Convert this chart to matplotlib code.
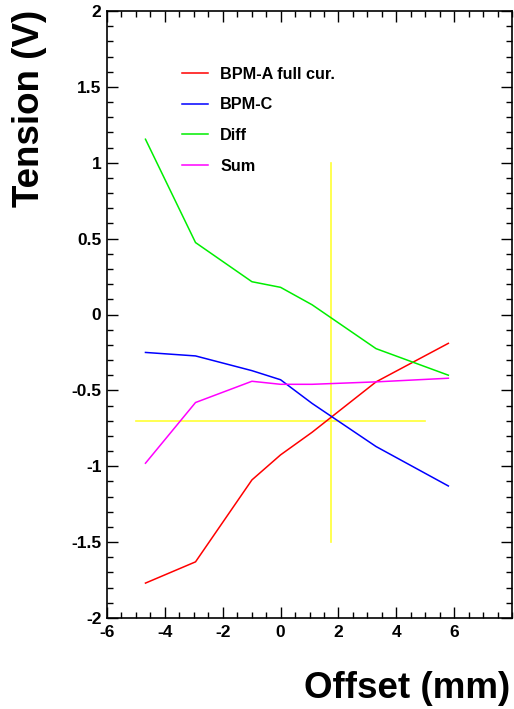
import matplotlib
matplotlib.use("Agg")
import matplotlib.pyplot as plt
from matplotlib.ticker import MultipleLocator, FixedLocator, FuncFormatter

# offsets (mm) and measured tensions (V)
offset = [-4.67, -2.94, -0.99, 0.0, 1.09, 3.3, 5.8]
bpm_a = [-1.77, -1.63, -1.09, -0.925, -0.776, -0.444, -0.19]
bpm_c = [-0.25, -0.273, -0.37, -0.43, -0.586, -0.87, -1.13]
diff = [1.155, 0.474, 0.216, 0.179, 0.064, -0.225, -0.40]
summ = [-0.98, -0.58, -0.44, -0.46, -0.46, -0.444, -0.42]

labels = ["BPM-A full cur.", "BPM-C", "Diff", "Sum"]
colors = ["#ff0000", "#0000ff", "#00ee00", "#ff00ff"]

# yellow cross marking the crossing point
cross_x = [1.76, 1.76]
cross_y = [-1.5, 1.0]
hline_x = [-5.0, 5.0]
hline_y = [-0.7, -0.7]

plt.rcParams['font.family'] = ['Liberation Sans', 'DejaVu Sans']
plt.rcParams['font.weight'] = 'bold'
plt.rcParams['axes.unicode_minus'] = False

fig = plt.figure(figsize=(5.14, 7.09), dpi=100)
ax = fig.add_axes([107/514, 1-618/709, 405/514, 607/709])

ax.plot(cross_x, cross_y, color="#ffff33", lw=1.2)
ax.plot(hline_x, hline_y, color="#ffff33", lw=1.2)

lines = []
for ys, c, lab in zip([bpm_a, bpm_c, diff, summ], colors, labels):
    l, = ax.plot(offset, ys, color=c, lw=1.1, label=lab)
    lines.append(l)

ax.set_xlim(-6, 8)
ax.set_ylim(-2, 2)
ax.xaxis.set_major_locator(FixedLocator([-6, -4, -2, 0, 2, 4, 6]))
ax.xaxis.set_minor_locator(MultipleLocator(0.5))
ax.yaxis.set_major_locator(MultipleLocator(0.5))
ax.yaxis.set_minor_locator(MultipleLocator(0.1))
ax.tick_params(which='both', direction='in', top=True, right=True,
               labelsize=12.5, width=1.0)
ax.tick_params(which='major', length=8)
ax.tick_params(which='minor', length=4)
ax.tick_params(axis='x', pad=5)
ax.tick_params(axis='y', pad=4)
for sp in ax.spines.values():
    sp.set_linewidth(1.2)

fmt = FuncFormatter(lambda v, p: "%g" % v)
ax.xaxis.set_major_formatter(fmt)
ax.yaxis.set_major_formatter(fmt)
for lab in ax.get_xticklabels() + ax.get_yticklabels():
    lab.set_fontweight('bold')

leg = ax.legend(handles=lines, loc='upper left', bbox_to_anchor=(0.185, 0.908),
                frameon=False, prop={'weight': 'bold', 'size': 11.7},
                borderpad=0, borderaxespad=0,
                handlelength=1.6, handletextpad=0.75, labelspacing=0.96)

fig.text(30/514, 1-10/709, "Tension (V)", rotation=90, ha='center', va='top',
         fontsize=26.5, fontweight='bold')
fig.text(510/514, 1-688/709, "Offset (mm)", ha='right', va='center',
         fontsize=26.5, fontweight='bold')

fig.savefig("out.png", dpi=100)
